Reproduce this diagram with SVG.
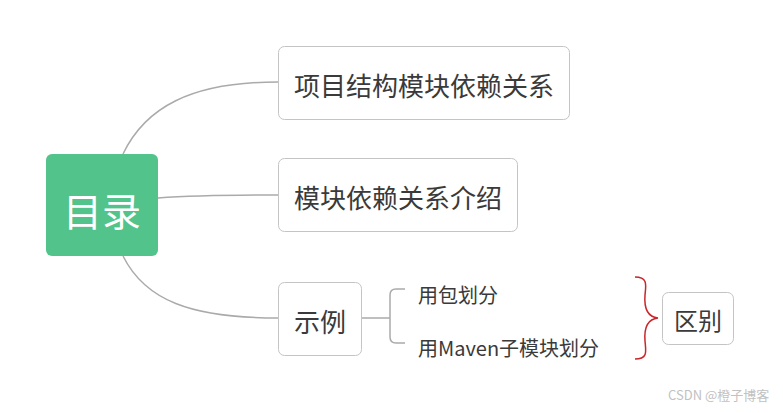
<svg xmlns="http://www.w3.org/2000/svg" width="783" height="413" viewBox="0 0 783 413">
<style>
.box{fill:#fff;stroke:#c4c4c4;stroke-width:1}
.t{font-family:"Noto Sans CJK SC","Noto Sans",sans-serif;fill:#3a3a3a;dominant-baseline:central}
.c{fill:none;stroke:#aaaaaa;stroke-width:1.5}
</style>
<rect width="783" height="413" fill="#fff"/>
<g id="connectors">
<path class="c" d="M123,154 C145,108 190,82 278,82"/>
<path class="c" d="M158,198 C200,195 240,195 278,195"/>
<path class="c" d="M123,256 C145,300 190,318 278,318"/>
<path class="c" d="M361,318 H390"/>
<path class="c" d="M405,289 H396 Q390,289 390,295 V337 Q390,343 396,343 H405"/>
<path fill="none" stroke="#c9262b" stroke-width="1.5" d="M635,277 C648,277 646,285 645,295 C644,308 648,317 658,318 C648,319 644,328 645,341 C646,352 648,359 635,359"/>
</g>
<g id="root">
<rect x="46" y="154" width="112" height="102" rx="6" fill="#52c38b"/>
<text class="t" x="102" y="209" font-size="39" text-anchor="middle" style="fill:#fff">目录</text>
</g>
<g id="n1">
<rect class="box" x="278.5" y="46.5" width="291" height="73" rx="6"/>
<text class="t" x="424" y="84" font-size="26" text-anchor="middle">项目结构模块依赖关系</text>
</g>
<g id="n2">
<rect class="box" x="278.5" y="158.5" width="239" height="73" rx="6"/>
<text class="t" x="398" y="196" font-size="26" text-anchor="middle">模块依赖关系介绍</text>
</g>
<g id="n3">
<rect class="box" x="278.5" y="282.5" width="83" height="73" rx="6"/>
<text class="t" x="320" y="320" font-size="26" text-anchor="middle">示例</text>
</g>
<g id="n4">
<text class="t" x="418" y="294" font-size="20">用包划分</text>
</g>
<g id="n5">
<text class="t" x="418" y="347" font-size="20">用Maven子模块划分</text>
</g>
<g id="n6">
<rect class="box" x="662.5" y="292.5" width="71" height="52" rx="6"/>
<text class="t" x="698" y="319" font-size="24" text-anchor="middle">区别</text>
</g>
<text x="668" y="400" font-family="'Noto Sans CJK SC','Noto Sans',sans-serif" font-size="13" fill="#bbbbbb" opacity="0.9">CSDN @橙子博客</text>
</svg>
